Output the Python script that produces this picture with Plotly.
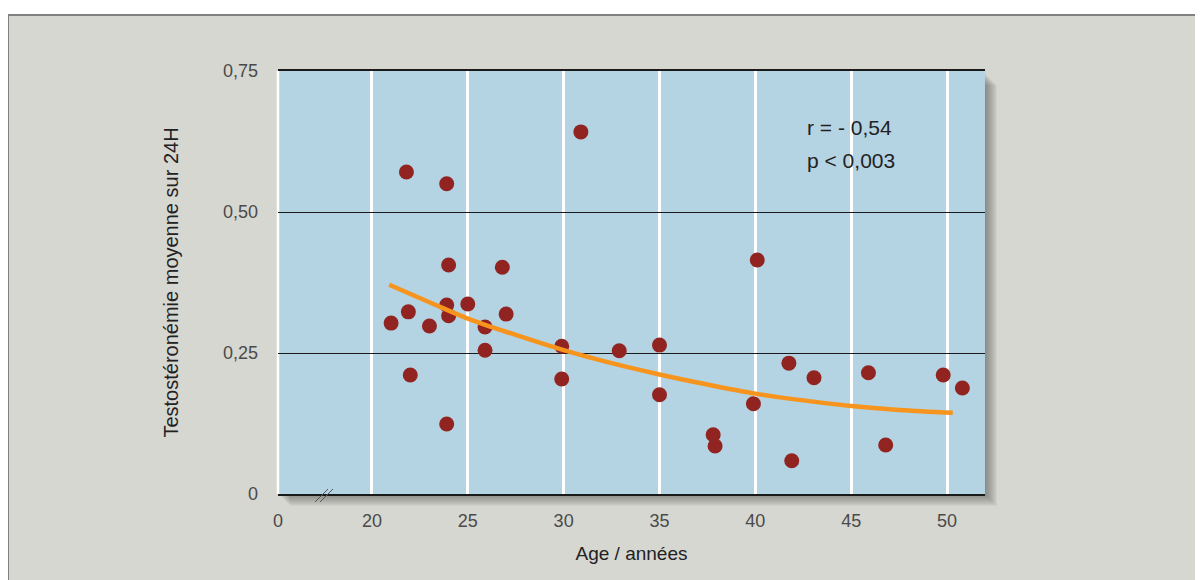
import plotly.graph_objects as go

# ages (years) and mean 24h testosterone
age = [21.0, 21.8, 21.9, 22.0, 23.0, 23.9, 24.0, 23.9, 24.0, 23.9,
       25.0, 25.9, 25.9, 26.8, 27.0, 29.9, 29.9, 30.9, 32.9, 35.0,
       35.0, 37.8, 37.9, 39.9, 40.1, 41.75, 41.9, 43.06, 45.9, 46.8,
       49.8, 50.8]
testo = [0.303, 0.571, 0.323, 0.211, 0.298, 0.550, 0.406, 0.335, 0.316, 0.124,
         0.337, 0.296, 0.255, 0.402, 0.319, 0.262, 0.204, 0.642, 0.254, 0.264,
         0.176, 0.105, 0.085, 0.160, 0.415, 0.232, 0.059, 0.206, 0.215, 0.087,
         0.211, 0.188]

# fitted curve
fit_age = [20.9, 23, 25, 27.5, 30, 32.5, 35, 37.5, 40, 42.5, 45, 47.5, 50.3]
fit_val = [0.371, 0.340, 0.311, 0.282, 0.255, 0.232, 0.212, 0.194, 0.178,
           0.166, 0.156, 0.149, 0.144]

x_ticks = ["0", "20", "25", "30", "35", "40", "45", "50"]
x_tick_pos = [15.1, 20, 25, 30, 35, 40, 45, 50]
y_ticks = ["0", "0,25", "0,50", "0,75"]
y_tick_pos = [0, 0.25, 0.5, 0.75]

# page has an 8px body margin, so the figure starts at (8, 8)
OFF = 8
W, H = 1203 - OFF, 580 - OFF
L, R, T, B = 278, 985, 71, 494          # plot area in screen pixels
pw, ph = R - L, B - T

def px(xp):
    return (xp - L) / pw

def py(yp):
    return (B - yp) / ph

txtfont = "Liberation Sans, Arial, sans-serif"
tickfont = dict(family=txtfont, size=18, color="#4a4a4a")

fig = go.Figure()
fig.add_trace(go.Scatter(x=age, y=testo, mode="markers",
                         marker=dict(size=15, color="#912421", line=dict(width=0)),
                         hoverinfo="x+y"))
fig.add_trace(go.Scatter(x=fit_age, y=fit_val, mode="lines", line_shape="spline",
                         line=dict(color="#f7941d", width=4.5)))

shapes = []
# grey frame
shapes.append(dict(type="rect", xref="paper", yref="paper", layer="below",
                   x0=px(8), x1=px(1215), y0=py(15), y1=py(600),
                   fillcolor="#d7d7d2", line=dict(color="#808080", width=2)))
# drop shadow
for d in range(1, 13):
    shapes.append(dict(type="rect", xref="paper", yref="paper", layer="below",
                       x0=px(L + d), x1=px(R + d), y0=py(B + d), y1=py(T + d + 2),
                       fillcolor="rgba(70,70,70,0.055)", line=dict(width=0)))
# plot area
shapes.append(dict(type="rect", xref="paper", yref="paper", layer="below",
                   x0=0, x1=1, y0=0, y1=1, fillcolor="#b4d3e3", line=dict(width=0)))
shapes.append(dict(type="line", xref="paper", yref="paper", layer="below",
                   x0=0, x1=0, y0=0, y1=1, line=dict(color="white", width=2.5)))
# axis break marks
for off in (0, 5):
    shapes.append(dict(type="line", xref="paper", yref="paper", layer="above",
                       x0=px(315 + off), x1=px(328 + off), y0=py(502), y1=py(489),
                       line=dict(color="#555555", width=1)))
fig.update_layout(shapes=shapes)

fig.add_annotation(x=42.6, y=0.649, xref="x", yref="y", text="r = - 0,54",
                   showarrow=False, xanchor="left",
                   font=dict(family=txtfont, size=21, color="#222222"))
fig.add_annotation(x=42.6, y=0.592, xref="x", yref="y", text="p < 0,003",
                   showarrow=False, xanchor="left",
                   font=dict(family=txtfont, size=21, color="#222222"))

fig.update_xaxes(range=[15.1, 51.98], tickvals=x_tick_pos, ticktext=x_ticks,
                 showgrid=True, gridcolor="white", gridwidth=2.5, zeroline=False,
                 showline=True, linecolor="#1a1a1a", linewidth=1.5, mirror=True,
                 ticks="", tickfont=tickfont, ticklabelstandoff=10,
                 title=dict(text="Age / années", font=dict(family=txtfont, size=19, color="#222222"),
                            standoff=16))
fig.update_yaxes(range=[0, 0.75], tickvals=y_tick_pos, ticktext=y_ticks,
                 showgrid=True, gridcolor="#1a1a1a", gridwidth=1, zeroline=False,
                 showline=False, ticks="", tickfont=tickfont, ticklabelstandoff=19,
                 title=dict(text="Testostéronémie moyenne sur 24H",
                            font=dict(family=txtfont, size=20, color="#222222"),
                            standoff=38))

fig.update_layout(width=W, height=H, showlegend=False,
                  margin=dict(l=L - OFF, r=OFF + W - R, t=T - OFF, b=OFF + H - B),
                  paper_bgcolor="white", plot_bgcolor="rgba(0,0,0,0)")

fig.write_html("out.html")
